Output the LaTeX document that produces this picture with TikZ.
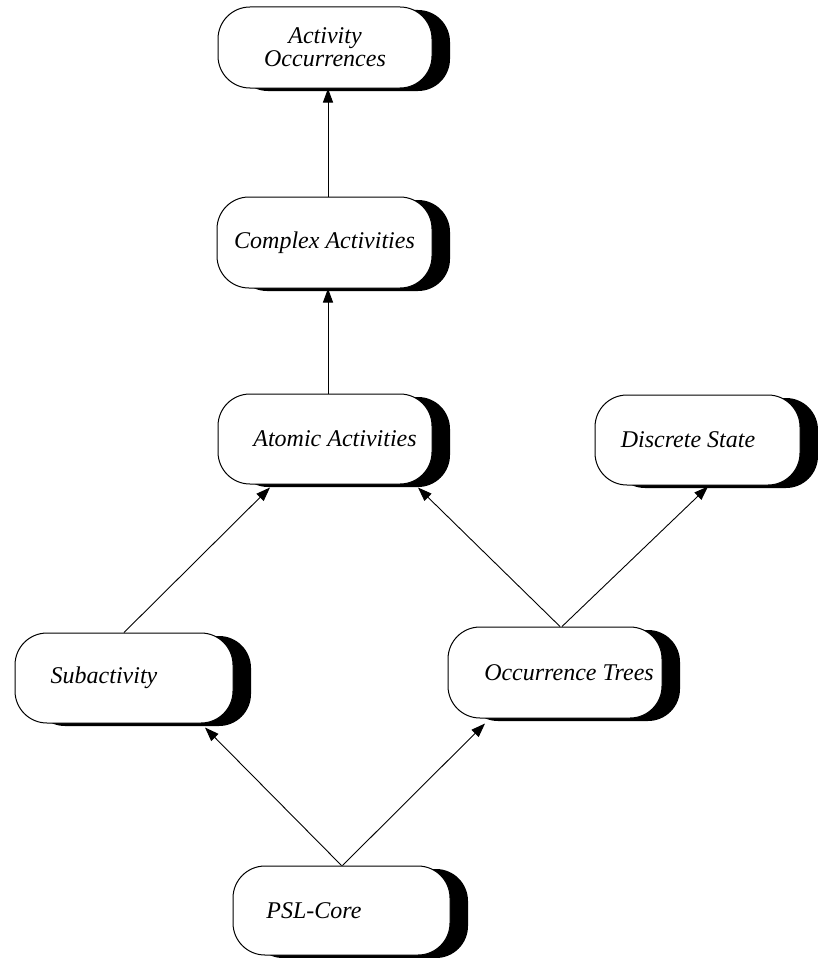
\documentclass[tikz,border=0pt]{standalone}
\usepackage{fontspec}
\setmainfont{Liberation Serif}
\usetikzlibrary{arrows.meta,shadows,calc}
\begin{document}
\begin{tikzpicture}[x=1pt,y=-1pt,
  box/.style={draw=black, line width=1pt, fill=white, rounded corners=32pt,
    minimum height=90pt, inner sep=0pt,
    font=\fontsize{24}{23}\selectfont\itshape, align=center,
    drop shadow={shadow xshift=18pt, shadow yshift=-3pt, fill=black, opacity=1}},
  arr/.style={draw=black, line width=0.9pt, -{Triangle[length=14pt,width=10pt]}}]
\useasboundingbox[fill=white] (0,0) rectangle (818,958);
\node[box, minimum width=214pt, minimum height=81pt] (ao) at (325,47.5) {Activity\\Occurrences};
\node[box, minimum width=215pt, minimum height=91pt] (ca) at (324.5,242.5) {Complex Activities};
\node[box, minimum width=214pt] (aa) at (325,439) {\hspace*{20pt}Atomic Activities};
\node[box, minimum width=205pt] (ds) at (697.5,440) {Discrete State\hspace*{19pt}};
\node[box, minimum width=218pt] (sa) at (124,678) {Subactivity\hspace*{40pt}};
\node[box, minimum width=214pt, minimum height=91pt] (ot) at (555,672.5) {\hspace*{28pt}Occurrence Trees};
\node[box, minimum width=217pt, minimum height=89pt] (pc) at (341.5,910.5) {PSL-Core\hspace*{55pt}};
\draw[arr] ($(ca.north)+(3.5,0)$) -- ($(ao.south)+(3,0)$);
\draw[arr] ($(aa.north)+(3,0)$) -- ($(ca.south)+(3.5,0)$);
\draw[arr] (sa.north) -- ($(aa.south)+(-55,3)$);
\draw[arr] ($(ot.north)+(5,0)$) -- ($(aa.south)+(93,3)$);
\draw[arr] ($(ot.north)+(7,0)$) -- ($(ds.south)+(10.5,1)$);
\draw[arr] (pc.north) -- ($(sa.south)+(81,4)$);
\draw[arr] ($(pc.north)+(1,0)$) -- ($(ot.south)+(-70,5)$);
\end{tikzpicture}
\end{document}
